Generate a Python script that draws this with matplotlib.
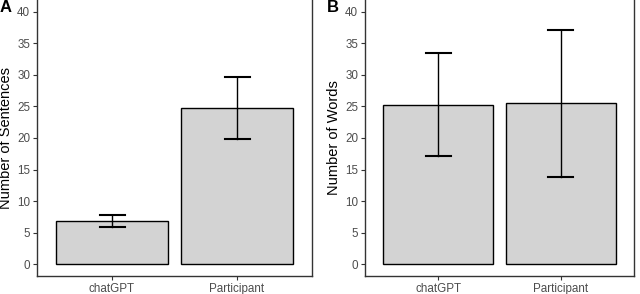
import matplotlib.pyplot as plt

# data
groups = ['chatGPT', 'Participant']
sentences_mean = [6.9, 24.8]
sentences_lo = [5.9, 19.8]
sentences_hi = [7.8, 29.7]
words_mean = [25.3, 25.5]
words_lo = [17.1, 13.8]
words_hi = [33.5, 37.1]
yticks = [0, 5, 10, 15, 20, 25, 30, 35, 40]

plt.rcParams['font.family'] = ['Liberation Sans', 'DejaVu Sans']

fig = plt.figure(figsize=(6.4, 2.94), dpi=100)
ax_a = fig.add_axes([37 / 640, 18 / 294, 275 / 640, 276 / 294])
ax_b = fig.add_axes([365 / 640, 18 / 294, 269 / 640, 276 / 294])


def draw_panel(ax, means, lo, hi, ylabel):
    x = [1, 2]
    ax.bar(x, means, width=0.9, color='#D3D3D3', edgecolor='black', linewidth=1.0, zorder=2)
    for xi, l, h in zip(x, lo, hi):
        ax.plot([xi, xi], [l, h], color='black', lw=1.0, zorder=3)
        ax.plot([xi - 0.1, xi + 0.1], [l, l], color='black', lw=1.5, zorder=3)
        ax.plot([xi - 0.1, xi + 0.1], [h, h], color='black', lw=1.5, zorder=3)
    ax.set_xlim(0.4, 2.6)
    ax.set_ylim(-1.9, 41.9)
    ax.set_xticks(x)
    ax.set_xticklabels(groups)
    ax.set_yticks(yticks)
    ax.tick_params(axis='both', length=3, width=0.8, color='#333333',
                   labelsize=8.4, labelcolor='#4D4D4D', pad=2)
    ax.set_ylabel(ylabel, fontsize=10.5, color='black', labelpad=3)
    ax.spines['top'].set_visible(False)
    for s in ['left', 'right', 'bottom']:
        ax.spines[s].set_linewidth(1.0)
        ax.spines[s].set_color('#333333')


draw_panel(ax_a, sentences_mean, sentences_lo, sentences_hi, 'Number of Sentences')
draw_panel(ax_b, words_mean, words_lo, words_hi, 'Number of Words')

fig.text(0 / 640, 1 - 7 / 294, 'A', fontsize=12, fontweight='bold', va='center', ha='left')
fig.text(327 / 640, 1 - 7 / 294, 'B', fontsize=12, fontweight='bold', va='center', ha='left')

fig.savefig('out.png', dpi=100)
